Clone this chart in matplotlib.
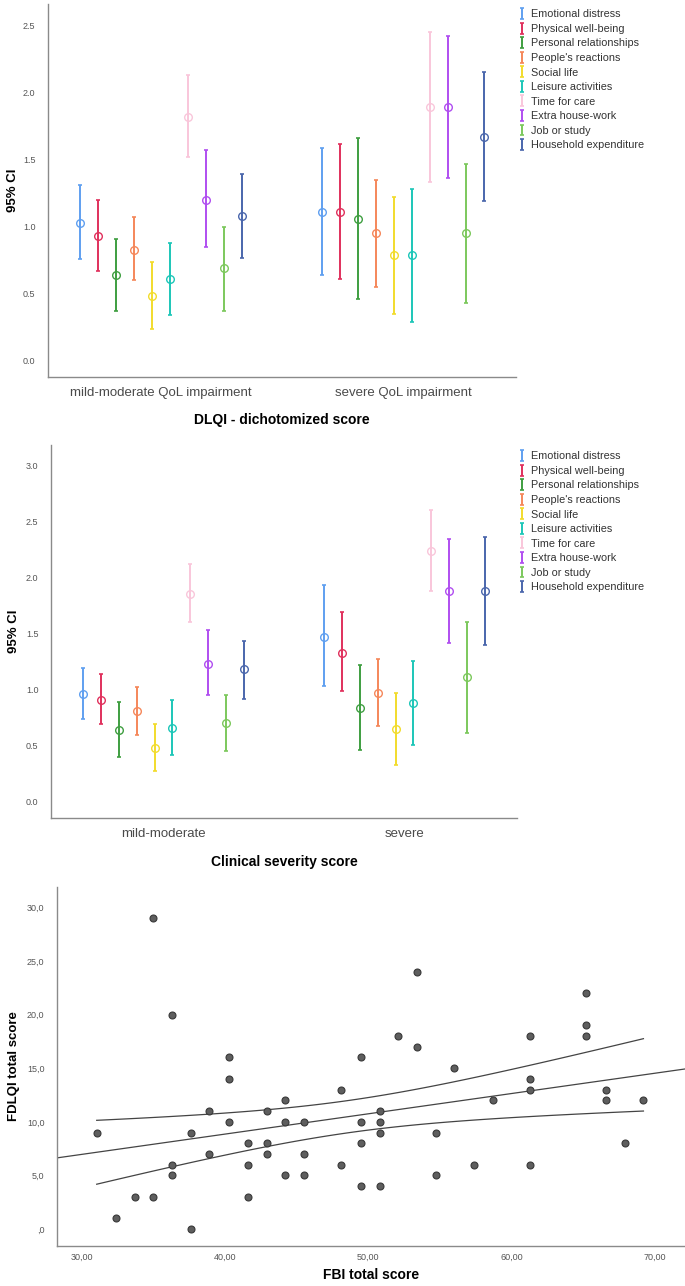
import matplotlib

matplotlib.use("Agg")
import matplotlib.pyplot as plt
import numpy as np

plt.rcParams["font.family"] = ["Liberation Sans", "DejaVu Sans"]

ITEMS = [
    "Emotional distress",
    "Physical well-being",
    "Personal relationships",
    "People's reactions",
    "Social life",
    "Leisure activities",
    "Time for care",
    "Extra house-work",
    "Job or study",
    "Household expenditure",
]
COLORS = [
    "#5f9ff0", "#e0305c", "#3e9e40", "#f5875a", "#f2dc2c",
    "#1cc6b8", "#f9c6da", "#b04ef0", "#7cc85c", "#4a66ac",
]

# panel 1: DLQI dichotomized
DLQI_GROUPS = ["mild-moderate QoL impairment", "severe QoL impairment"]
DLQI_MEAN = [
    [1.03, 0.93, 0.64, 0.83, 0.48, 0.61, 1.82, 1.20, 0.69, 1.08],
    [1.11, 1.11, 1.06, 0.95, 0.79, 0.79, 1.89, 1.89, 0.95, 1.67],
]
DLQI_LOW = [
    [0.76, 0.67, 0.37, 0.60, 0.24, 0.34, 1.52, 0.85, 0.37, 0.77],
    [0.64, 0.61, 0.46, 0.55, 0.35, 0.29, 1.33, 1.36, 0.43, 1.19],
]
DLQI_HIGH = [
    [1.31, 1.20, 0.91, 1.07, 0.74, 0.88, 2.13, 1.57, 1.00, 1.39],
    [1.59, 1.62, 1.66, 1.35, 1.22, 1.28, 2.45, 2.42, 1.47, 2.15],
]

# panel 2: clinical severity
SEV_GROUPS = ["mild-moderate", "severe"]
SEV_MEAN = [
    [0.96, 0.91, 0.64, 0.81, 0.48, 0.66, 1.85, 1.23, 0.70, 1.18],
    [1.47, 1.33, 0.84, 0.97, 0.65, 0.88, 2.24, 1.88, 1.11, 1.88],
]
SEV_LOW = [
    [0.74, 0.69, 0.40, 0.60, 0.28, 0.42, 1.60, 0.95, 0.45, 0.92],
    [1.03, 0.99, 0.46, 0.68, 0.33, 0.51, 1.88, 1.42, 0.61, 1.40],
]
SEV_HIGH = [
    [1.19, 1.14, 0.89, 1.02, 0.69, 0.91, 2.12, 1.53, 0.95, 1.43],
    [1.93, 1.69, 1.22, 1.27, 0.97, 1.26, 2.60, 2.34, 1.60, 2.36],
]

# panel 3: scatter
FBI = [
    31.05, 32.4, 33.7, 35.0, 35.0, 36.3, 36.3, 36.3, 37.6, 37.6,
    38.9, 38.9, 40.3, 40.3, 40.3, 41.6, 41.6, 41.6, 42.9, 42.9,
    42.9, 44.2, 44.2, 44.2, 45.5, 45.5, 45.5, 48.1, 48.1, 49.5,
    49.5, 49.5, 49.5, 50.8, 50.8, 50.8, 50.8, 52.1, 53.4, 53.4,
    54.7, 54.7, 56.0, 57.4, 58.7, 61.3, 61.3, 61.3, 61.3, 65.2,
    65.2, 65.2, 66.6, 66.6, 67.9, 69.2,
]
FDLQI = [
    9, 1, 3, 29, 3, 20, 6, 5, 9, 0,
    11, 7, 16, 14, 10, 8, 6, 3, 11, 8,
    7, 12, 10, 5, 10, 7, 5, 13, 6, 16,
    10, 8, 4, 11, 10, 9, 4, 18, 24, 17,
    9, 5, 15, 6, 12, 18, 14, 13, 6, 22,
    19, 18, 13, 12, 8, 12,
]

TICK_COLOR = "#555555"
SPINE_COLOR = "#8a8a8a"

fig = plt.figure(figsize=(6.85, 12.86), dpi=100)


def style_axes(ax):
    for side in ("top", "right"):
        ax.spines[side].set_visible(False)
    for side in ("left", "bottom"):
        ax.spines[side].set_color(SPINE_COLOR)
        ax.spines[side].set_linewidth(1.0)
    ax.tick_params(axis="both", length=0, colors=TICK_COLOR)


def ci_panel(rect, groups, means, lows, highs, xlabel, yticks, ylim, legend_top,
             ylab_x, xlab_y):
    ax = fig.add_axes(rect)
    style_axes(ax)
    step = 0.0744
    handles = []
    for i, (name, color) in enumerate(zip(ITEMS, COLORS)):
        xs = np.arange(len(groups)) + (i - 4.5) * step
        m = np.array([g[i] for g in means])
        lo = np.array([g[i] for g in lows])
        hi = np.array([g[i] for g in highs])
        eb = ax.errorbar(
            xs, m, yerr=[m - lo, hi - m], fmt="none", ecolor=color,
            elinewidth=1.4, capsize=1.6, capthick=1.2, label=name,
        )
        ax.plot(xs, m, "o", markersize=5.5, markerfacecolor="none",
                markeredgecolor=color, markeredgewidth=1.0)
        handles.append(eb)
    ax.set_xlim(-0.467, 1.467)
    ax.set_ylim(*ylim)
    ax.set_xticks(range(len(groups)))
    ax.set_xticklabels(groups, fontsize=9.5, color="#4a4a4a")
    ax.tick_params(axis="x", pad=7)
    ax.set_yticks(yticks)
    ax.set_yticklabels([f"{v:.1f}" for v in yticks], fontsize=6.5)
    ax.tick_params(axis="y", pad=9)
    ax.set_xlabel(xlabel, fontsize=10, fontweight="bold")
    ax.xaxis.set_label_coords(0.5, xlab_y)
    ax.set_ylabel("95% CI", fontsize=9.5, fontweight="bold")
    ax.yaxis.set_label_coords(ylab_x, 0.5)
    ax.legend(
        handles=handles, loc="upper left",
        bbox_to_anchor=(514 / 685, legend_top), bbox_transform=fig.transFigure,
        frameon=False, fontsize=7.8, handlelength=0.7, handletextpad=0.5,
        labelspacing=0.42, borderaxespad=0, labelcolor="#333333",
    )
    return ax


ci_panel(
    [48 / 685, 1 - 377 / 1286, 468 / 685, 373 / 1286],
    DLQI_GROUPS, DLQI_MEAN, DLQI_LOW, DLQI_HIGH,
    "DLQI - dichotomized score", [0.0, 0.5, 1.0, 1.5, 2.0, 2.5], (-0.12, 2.66),
    1 - 5 / 1286, -0.062, -0.0965,
)
ci_panel(
    [51 / 685, 1 - 818 / 1286, 466 / 685, 373 / 1286],
    SEV_GROUPS, SEV_MEAN, SEV_LOW, SEV_HIGH,
    "Clinical severity score", [0.0, 0.5, 1.0, 1.5, 2.0, 2.5, 3.0], (-0.143, 3.18),
    1 - 447 / 1286, -0.0665, -0.099,
)

# scatter with linear fit and 95% CI of the mean
ax = fig.add_axes([57 / 685, 1 - 1246 / 1286, 628 / 685, 359 / 1286])
style_axes(ax)
x = np.array(FBI)
y = np.array(FDLQI, dtype=float)
ax.plot(x, y, "o", markersize=5, markerfacecolor="#5e5e5e",
        markeredgecolor="#383838", markeredgewidth=0.8, zorder=3)

xmin, xmax = 28.28, 72.1
slope, intercept = np.polyfit(x, y, 1)
xx = np.linspace(xmin, xmax, 2)
ax.plot(xx, intercept + slope * xx, color="#444444", linewidth=0.9)

n = len(x)
resid = y - (intercept + slope * x)
s = np.sqrt(np.sum(resid ** 2) / (n - 2))
sxx = np.sum((x - x.mean()) ** 2)
t_crit = 2.005  # t(0.975, df=54)
xb = np.linspace(x.min(), x.max(), 100)
half = t_crit * s * np.sqrt(1 / n + (xb - x.mean()) ** 2 / sxx)
fit_b = intercept + slope * xb
ax.plot(xb, fit_b + half, color="#444444", linewidth=0.9)
ax.plot(xb, fit_b - half, color="#444444", linewidth=0.9)

ax.set_xlim(xmin, xmax)
ax.set_ylim(-1.58, 31.9)
xt = [30, 40, 50, 60, 70]
ax.set_xticks(xt)
ax.set_xticklabels([f"{v:.2f}".replace(".", ",") for v in xt], fontsize=6.5)
yt = [0, 5, 10, 15, 20, 25, 30]
ax.set_yticks(yt)
ax.set_yticklabels([",0" if v == 0 else f"{v:.1f}".replace(".", ",") for v in yt],
                   fontsize=6.5)
ax.tick_params(axis="x", pad=5)
ax.tick_params(axis="y", pad=9)
ax.set_xlabel("FBI total score", fontsize=10, fontweight="bold")
ax.xaxis.set_label_coords(0.5, -0.06)
ax.set_ylabel("FDLQI total score", fontsize=9.5, fontweight="bold")
ax.yaxis.set_label_coords(-0.059, 0.5)

fig.savefig("out.png", dpi=100)
